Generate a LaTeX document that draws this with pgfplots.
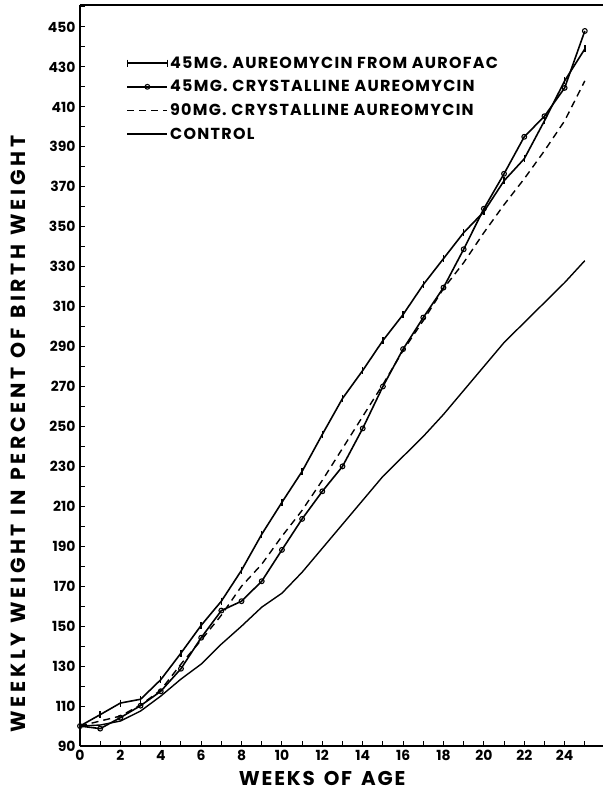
\documentclass[border=0pt]{standalone}
\usepackage{fontspec}
\setmainfont{Poppins}
\newfontfamily\ylblfont{Poppins}[LetterSpace=18]
\newfontfamily\xlblfont{Poppins}[LetterSpace=9]
\newfontfamily\legfont{Poppins}[LetterSpace=8]
\usepackage{pgfplots}
\pgfplotsset{compat=1.18}
\pgfplotsset{
  midleg/.style={legend image code/.code={\draw[##1,mark repeat=2,mark phase=2] plot coordinates {(0bp,0bp) (20bp,0bp) (40bp,0bp)};}},
  endleg/.style={legend image code/.code={\draw[##1,mark repeat=2,mark phase=1] plot coordinates {(0bp,0bp) (20bp,0bp) (40bp,0bp)};}},
}
\newcommand{\gap}{\hspace{9bp}}
\begin{document}
\begin{tikzpicture}
\useasboundingbox (-80bp,-45bp) rectangle (523bp,746bp);
\begin{axis}[
  at={(0,0)}, anchor=south west,
  scale only axis, width=523bp, height=741bp,
  xmin=0, xmax=25.9, ymin=90, ymax=461,
  axis x line=box, axis y line=left,
  axis line style={-, line width=1.4bp},
  xtick={0,2,...,24}, minor xtick={1,3,...,25},
  ytick={90,110,...,450}, minor ytick={100,120,...,460},
  xtick pos=left, ytick pos=left, tick align=inside,
  major tick length=5bp, minor tick length=5bp,
  tick style={line width=1bp, black},
  /pgf/number format/assume math mode=true,
  ticklabel style={font=\bfseries\fontsize{14}{14}\selectfont},
  xticklabel style={yshift=-1bp},
  yticklabel style={xshift=-1bp},
  xlabel={WEEKS\gap OF\gap AGE},
  ylabel={WEEKLY\gap WEIGHT\gap IN\gap PERCENT\gap OF\gap BIRTH\gap WEIGHT},
  xlabel style={font=\xlblfont\bfseries\fontsize{20}{20}\selectfont, inner sep=0pt,
    at={(axis description cs:0.463,-0.0435)}, anchor=center},
  ylabel style={font=\ylblfont\bfseries\fontsize{20.5}{20.5}\selectfont, inner sep=0pt,
    at={(axis description cs:-0.1186,0.421)}, anchor=center},
  legend style={at={(axis description cs:0.083,0.936)}, anchor=north west,
    draw=none, fill=none, font=\legfont\bfseries\fontsize{16}{16}\selectfont,
    row sep=6.5bp},
  legend cell align=left,
  midleg,
  every axis plot/.append style={line width=1.6bp, black, line join=round},
]
\addplot[mark=|, mark size=3.5bp, mark options={solid, line width=1.4bp}, endleg]
coordinates {
(0,100) (1,105.7) (2,111.5) (3,113.4) (4,123.2) (5,136.5) (6,150.4) (7,162.5)
(8,178) (9,196) (10,212) (11,227.5) (12,246) (13,264) (14,278) (15,293)
(16,306) (17,321) (18,334) (19,347) (20,357.5) (21,373) (22,384) (23,403)
(24,423) (25,439)};
\addlegendentry{45MG. AUREOMYCIN FROM AUROFAC}
\addplot[mark=o, mark size=2.4bp, mark options={solid, fill=white, line width=1.1bp}]
coordinates {
(0,100) (1,98.7) (2,104.2) (3,110.2) (4,117.4) (5,128.7) (6,144.2) (7,157.8)
(8,162.5) (9,172.5) (10,188.2) (11,203.7) (12,217.5) (13,230) (14,249) (15,270)
(16,288.7) (17,304.5) (18,319.5) (19,338.7) (20,359) (21,376.5) (22,395) (23,405.3)
(24,419.5) (25,448)};
\addlegendentry{45MG. CRYSTALLINE AUREOMYCIN}
\addplot[dash pattern=on 7bp off 5bp, line width=1.4bp]
coordinates {
(0,100) (1,102.5) (2,105) (3,110.5) (4,118) (5,131) (6,143) (7,155.5)
(8,170) (9,181) (10,195) (11,208) (12,223) (13,239) (14,255) (15,271)
(16,288) (17,303) (18,319) (19,332) (20,347) (21,361) (22,374) (23,388)
(24,403) (25,423)};
\addlegendentry{90MG. CRYSTALLINE AUREOMYCIN}
\addplot[line width=1.4bp]
coordinates {
(0,100) (1,100.5) (2,102.5) (3,107.5) (4,115) (5,123.5) (6,131) (7,141)
(8,150) (9,159.5) (10,166.5) (11,177) (12,189) (13,201) (14,213) (15,225)
(16,235) (17,245) (18,256) (19,268) (20,280) (21,292) (22,302) (23,312)
(24,322) (25,333)};
\addlegendentry{CONTROL}
\end{axis}
\end{tikzpicture}
\end{document}
